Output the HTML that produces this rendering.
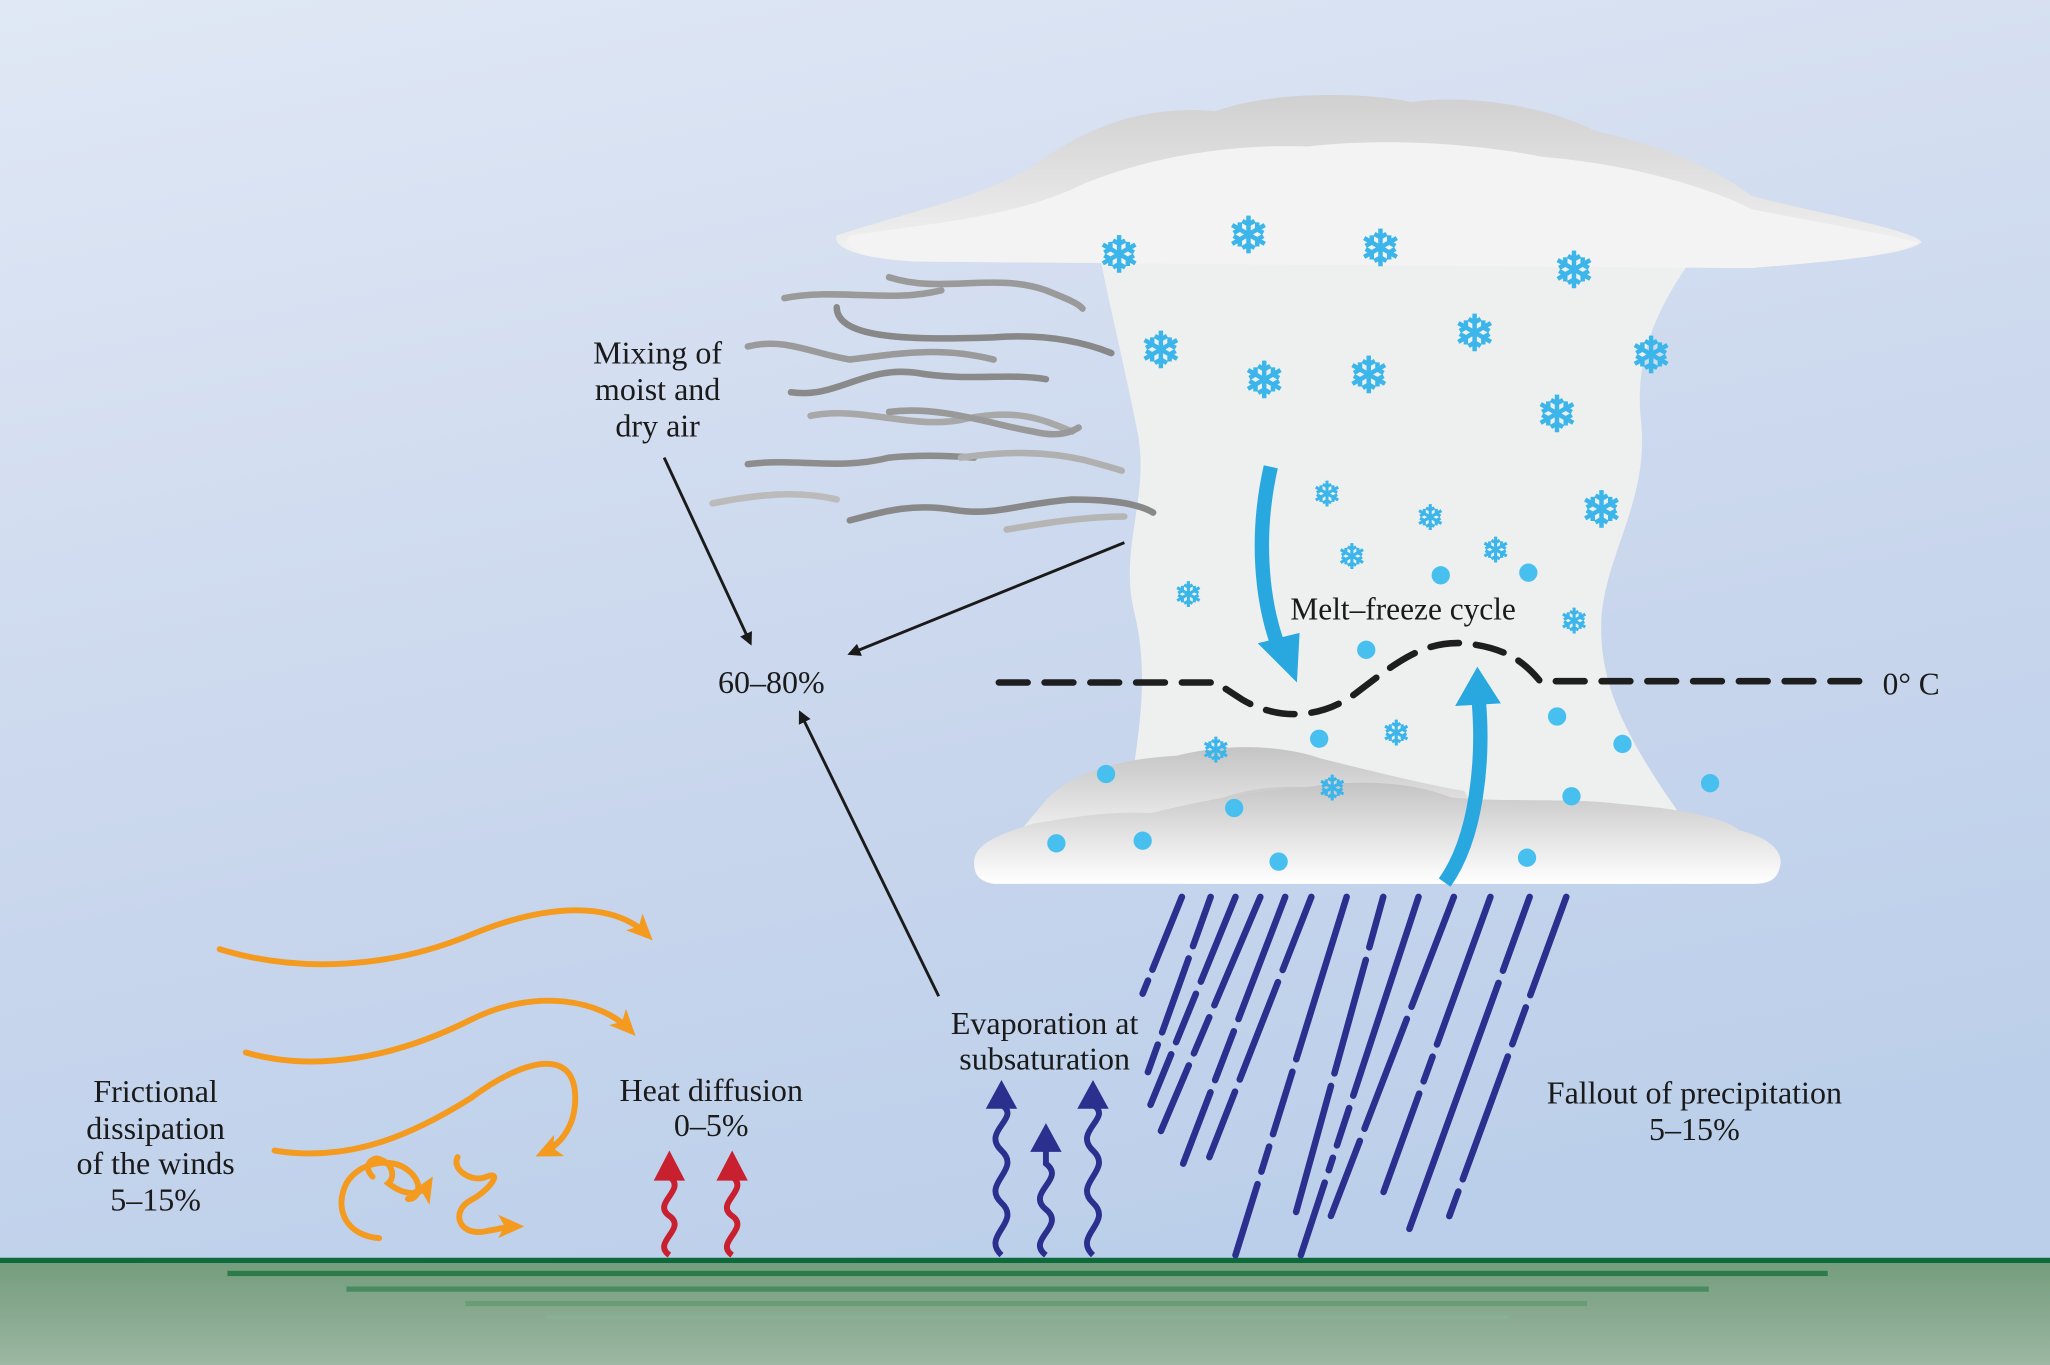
<!DOCTYPE html>
<html><head><meta charset="utf-8"><style>
html,body{margin:0;padding:0;width:2050px;height:1365px;overflow:hidden;background:#c9d7ee}
svg{display:block}
text{font-family:"Liberation Serif",serif;fill:#1a1a1a}
</style></head><body>
<svg width="2050" height="1365" viewBox="0 0 1568 1044" xmlns="http://www.w3.org/2000/svg">
<defs>
<linearGradient id="sky" x1="0" y1="0" x2="0.3" y2="1">
<stop offset="0" stop-color="#e0e8f5"/><stop offset="0.5" stop-color="#cdd9ee"/><stop offset="1" stop-color="#bccfea"/></linearGradient>
<linearGradient id="gr" x1="0" y1="0" x2="0" y2="1">
<stop offset="0" stop-color="#739c7c"/><stop offset="1" stop-color="#9cb7a2"/></linearGradient>
<linearGradient id="cb" x1="0" y1="0" x2="0" y2="1">
<stop offset="0" stop-color="#c4c4c4"/><stop offset="1" stop-color="#ffffff"/></linearGradient>
<linearGradient id="ct" x1="0" y1="0" x2="0" y2="1">
<stop offset="0" stop-color="#d0d0d0"/><stop offset="1" stop-color="#f4f4f4"/></linearGradient>
<marker id="ah" markerWidth="10" markerHeight="10" refX="8" refY="5" orient="auto" markerUnits="userSpaceOnUse"><path d="M0,0 L10,5 L0,10 Z" fill="#1a1a1a"/></marker>
<marker id="oa" markerWidth="22" markerHeight="22" refX="14" refY="11" orient="auto" markerUnits="userSpaceOnUse"><path d="M0,2 L20,11 L0,20 L5,11 Z" fill="#f39a1f"/></marker>
</defs>
<rect width="1568" height="1044" fill="url(#sky)"/>
<rect y="963" width="1568" height="81" fill="url(#gr)"/>
<rect y="962" width="1568" height="4" fill="#0d6a3a"/>
<rect x="174" y="972" width="1224" height="4" fill="#2d7a4b"/>
<rect x="265" y="984" width="1042" height="4" fill="#4a8a60"/>
<rect x="356" y="995" width="858" height="4" fill="#6a9c78"/>
<rect x="418" y="1006" width="736" height="3" fill="#88b092"/>

<path d="M840,190 L1300,190 C1270,230 1250,270 1255,320 C1262,380 1230,420 1225,470 C1222,520 1240,560 1290,630 L860,630 C870,570 880,520 868,470 C855,420 880,380 870,330 C860,280 850,240 840,190 Z" fill="#eef0f0"/>
<path d="M640,180 C700,160 760,150 800,120 C830,100 870,80 930,85 C970,70 1040,70 1080,78 C1120,72 1180,80 1220,100 C1260,110 1300,120 1340,150 C1400,165 1460,175 1470,185 C1460,195 1400,200 1340,205 L700,200 C660,198 636,190 640,180 Z" fill="url(#ct)"/>
<path d="M650,180 C720,170 780,165 830,140 C880,120 940,110 1000,112 C1060,105 1130,110 1180,120 C1240,125 1300,140 1340,160 C1400,172 1450,180 1468,186 C1440,196 1380,202 1330,205 L700,200 C665,197 640,190 650,180 Z" fill="#f3f3f3"/>
<path d="M800,612 C820,590 860,580 900,578 C940,568 980,570 1010,580 C1050,590 1090,600 1120,605 L1140,640 L760,660 Z" fill="url(#cb)"/>
<path d="M745,660 C745,645 765,638 790,630 C820,625 850,620 880,622 C920,612 960,605 1000,602 C1040,596 1080,598 1110,610 C1150,614 1200,610 1240,615 C1280,618 1320,625 1330,635 C1350,640 1362,648 1362,660 C1360,672 1355,676 1340,676 L760,676 C748,674 745,668 745,660 Z" fill="url(#cb)"/>
<path d="M900,630 C920,610 960,600 1000,602 C1040,596 1080,598 1110,610 C1150,614 1200,610 1240,615 C1280,618 1320,625 1330,635 C1350,640 1362,648 1362,660 C1360,672 1355,676 1340,676 L905,676 Z" fill="url(#cb)" opacity="0.8"/>

<g fill="none" stroke="#9a9a9a" stroke-width="5" stroke-linecap="round">
<path d="M680,212 C720,225 760,208 800,222 C815,228 825,232 828,236" />
<path d="M600,228 C640,220 680,232 720,222"/>
<path d="M640,235 C640,260 700,260 760,258 C800,255 830,262 850,270" stroke="#888"/>
<path d="M572,265 C600,258 620,270 650,275 C690,270 720,265 760,275"/>
<path d="M605,300 C640,305 660,280 700,285 C740,292 770,285 800,290" stroke="#8a8a8a"/>
<path d="M620,318 C660,310 700,330 740,320 C780,312 800,322 820,330" stroke="#a8a8a8"/>
<path d="M680,315 C720,310 760,325 790,330 C810,335 820,330 825,327" stroke="#999"/>
<path d="M572,355 C610,350 640,360 680,350 C700,348 720,348 745,350" stroke="#8d8d8d"/>
<path d="M735,350 C770,345 800,345 830,352 C845,356 852,358 858,360" stroke="#b0b0b0"/>
<path d="M545,385 C580,378 610,375 640,382" stroke="#bbb"/>
<path d="M650,398 C680,390 700,385 730,390 C760,395 780,385 820,382 C850,382 870,385 882,392" stroke="#888"/>
<path d="M770,405 C800,400 830,395 860,395" stroke="#b5b5b5"/>
</g>

<g font-family="DejaVu Sans,sans-serif" text-anchor="middle" font-weight="bold">
<text x="856" y="208" font-size="38" style="fill:#3bb5ea">❄</text>
<text x="955" y="193" font-size="38" style="fill:#3bb5ea">❄</text>
<text x="1056" y="203" font-size="38" style="fill:#3bb5ea">❄</text>
<text x="1204" y="220" font-size="38" style="fill:#3bb5ea">❄</text>
<text x="888" y="281" font-size="38" style="fill:#3bb5ea">❄</text>
<text x="1128" y="268" font-size="38" style="fill:#3bb5ea">❄</text>
<text x="1263" y="285" font-size="38" style="fill:#3bb5ea">❄</text>
<text x="967" y="304" font-size="38" style="fill:#3bb5ea">❄</text>
<text x="1047" y="300" font-size="38" style="fill:#3bb5ea">❄</text>
<text x="1191" y="330" font-size="38" style="fill:#3bb5ea">❄</text>
<text x="1225" y="403" font-size="38" style="fill:#3bb5ea">❄</text>
<text x="1015" y="387" font-size="26" style="fill:#3bb5ea">❄</text>
<text x="1094" y="405" font-size="26" style="fill:#3bb5ea">❄</text>
<text x="1144" y="430" font-size="26" style="fill:#3bb5ea">❄</text>
<text x="1034" y="435" font-size="26" style="fill:#3bb5ea">❄</text>
<text x="909" y="464" font-size="26" style="fill:#3bb5ea">❄</text>
<text x="1204" y="484" font-size="26" style="fill:#3bb5ea">❄</text>
<text x="1068" y="570" font-size="26" style="fill:#3bb5ea">❄</text>
<text x="930" y="583" font-size="26" style="fill:#3bb5ea">❄</text>
<text x="1019" y="612" font-size="26" style="fill:#3bb5ea">❄</text>
</g>
<g fill="#47c0f0">
<circle cx="1102" cy="440" r="7"/><circle cx="1169" cy="438" r="7"/><circle cx="1045" cy="497" r="7"/>
<circle cx="1009" cy="565" r="7"/><circle cx="1191" cy="548" r="7"/><circle cx="1241" cy="569" r="7"/>
<circle cx="1308" cy="599" r="7"/><circle cx="1202" cy="609" r="7"/><circle cx="846" cy="592" r="7"/>
<circle cx="944" cy="618" r="7"/><circle cx="808" cy="645" r="7"/><circle cx="874" cy="643" r="7"/>
<circle cx="978" cy="659" r="7"/><circle cx="1168" cy="656" r="7"/>
</g>

<path d="M972,357 C960,410 965,460 978,495" fill="none" stroke="#29a8e0" stroke-width="11"/>
<path d="M962,492 L992,522 L994,484 Z" fill="#29a8e0"/>
<path d="M1105,675 C1130,640 1135,580 1131,535" fill="none" stroke="#29a8e0" stroke-width="11"/>
<path d="M1113,540 L1130,510 L1148,538 Z" fill="#29a8e0"/>
<path d="M764,522 L930,522 L950,535 C975,550 1010,552 1040,528 C1070,505 1090,490 1120,492 C1150,495 1165,505 1178,521 L1425,521" fill="none" stroke="#1e1e1e" stroke-width="5" stroke-dasharray="22,13" stroke-linecap="round"/>
<text x="987" y="474" font-size="24">Melt–freeze cycle</text>
<text x="1440" y="531" font-size="24">0° C</text>

<g stroke="#2b2f8e" stroke-width="5" stroke-linecap="round" fill="none">
<path d="M904,686 L874,760" stroke-dasharray="60,9,16,9"/>
<path d="M926,686 L878,820" stroke-dasharray="40,10,60,10"/>
<path d="M945,686 L880,845" stroke-dasharray="70,10,40,10"/>
<path d="M964,686 L888,865" stroke-dasharray="90,10,30,10"/>
<path d="M983,686 L905,890" stroke-dasharray="100,10,40,10"/>
<path d="M1003,686 L925,885" stroke-dasharray="60,10,80,10"/>
<path d="M1030,686 L945,960" stroke-dasharray="130,10,50,10,20,10"/>
<path d="M1058,686 L985,950" stroke-dasharray="40,10,90,10,100"/>
<path d="M1085,686 L995,960" stroke-dasharray="160,10,30,10,10,10"/>
<path d="M1112,686 L1018,930" stroke-dasharray="90,10,90,10"/>
<path d="M1140,686 L1048,940" stroke-dasharray="120,10,20,10,80"/>
<path d="M1170,686 L1078,940" stroke-dasharray="60,10,200"/>
<path d="M1198,686 L1102,948" stroke-dasharray="80,10,30,10,100,10,20"/>
</g>

<g fill="none" stroke-width="4.5">
<path d="M512,960 C498,950 526,940 512,930 C498,920 526,910 512,900" stroke="#c8202f"/>
<path d="M560,960 C546,950 574,940 560,930 C546,920 574,910 560,900" stroke="#c8202f"/>
<path d="M766,960 C750,945 782,935 766,920 C750,905 782,895 766,880 C750,865 782,855 766,845" stroke="#2b2f8e"/>
<path d="M800,960 C784,948 816,938 800,925 C784,912 816,902 800,890 L800,878" stroke="#2b2f8e"/>
<path d="M836,960 C820,945 852,935 836,920 C820,905 852,895 836,880 C820,865 852,855 836,845" stroke="#2b2f8e"/>
</g>
<path d="M500,903 L512,880 L524,903 Z" fill="#c8202f"/>
<path d="M548,903 L560,880 L572,903 Z" fill="#c8202f"/>
<path d="M754,848 L766,826 L778,848 Z" fill="#2b2f8e"/>
<path d="M788,881 L800,859 L812,881 Z" fill="#2b2f8e"/>
<path d="M824,848 L836,826 L848,848 Z" fill="#2b2f8e"/>

<g fill="none" stroke="#f39a1f" stroke-width="4.5" stroke-linecap="round">
<path d="M168,726 C230,745 300,740 360,715 C420,690 470,690 495,715" marker-end="url(#oa)"/>
<path d="M188,805 C240,820 300,810 360,780 C410,755 460,765 482,788" marker-end="url(#oa)"/>
<path d="M210,880 C270,890 320,865 360,840 C400,810 440,800 440,840 C440,860 430,875 415,882" marker-end="url(#oa)"/>
<path d="M290,947 C265,945 255,925 265,905 C275,888 300,885 312,895 C325,905 320,918 312,917" />
<path d="M285,900 C280,895 280,888 288,886 C300,888 303,900 297,905 C310,915 322,915 328,905" marker-end="url(#oa)"/>
<path d="M350,885 C345,895 362,905 372,900 C385,895 375,910 360,918 C345,926 350,945 370,942 C382,940 388,938 395,938" marker-end="url(#oa)"/>
</g>

<g stroke="#1a1a1a" stroke-width="2.2" fill="none">
<line x1="508" y1="350" x2="574" y2="492" marker-end="url(#ah)"/>
<line x1="860" y1="415" x2="650" y2="500" marker-end="url(#ah)"/>
<line x1="718" y1="762" x2="612" y2="545" marker-end="url(#ah)"/>
</g>

<g font-size="24.5" text-anchor="middle">
<text x="503" y="278">Mixing of</text>
<text x="503" y="306">moist and</text>
<text x="503" y="334">dry air</text>
<text x="590" y="530">60–80%</text>
<text x="799" y="791">Evaporation at</text>
<text x="799" y="818">subsaturation</text>
<text x="544" y="842">Heat diffusion</text>
<text x="544" y="869">0–5%</text>
<text x="119" y="843">Frictional</text>
<text x="119" y="871">dissipation</text>
<text x="119" y="898">of the winds</text>
<text x="119" y="926">5–15%</text>
<text x="1296" y="844">Fallout of precipitation</text>
<text x="1296" y="872">5–15%</text>
</g>
</svg>
</body></html>
